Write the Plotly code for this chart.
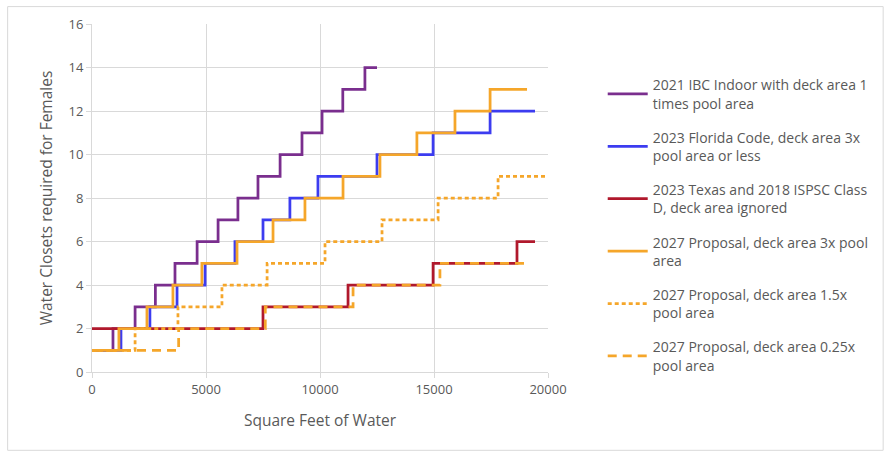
import plotly.graph_objects as go

# Step breakpoints (square feet of water) and required female water closets
ibc_x = [0, 920, 1890, 2780, 3640, 4610, 5530, 6400, 7280, 8250, 9210, 10090, 11000, 11970, 12500]
ibc_y = [1, 2, 3, 4, 5, 6, 7, 8, 9, 10, 11, 12, 13, 14, 14]

fl_x = [0, 1270, 2540, 3730, 4960, 6270, 7500, 8680, 9910, 12500, 14960, 17460, 19430]
fl_y = [1, 2, 3, 4, 5, 6, 7, 8, 9, 10, 11, 12, 12]

tx_x = [0, 7500, 11230, 14960, 18640, 19430]
tx_y = [2, 3, 4, 5, 6, 6]

p3_x = [0, 1180, 2410, 3550, 4820, 6360, 7940, 9340, 11010, 12630, 14250, 15920, 17460, 19080]
p3_y = [1, 2, 3, 4, 5, 6, 7, 8, 9, 10, 11, 12, 13, 13]

p15_x = [0, 1890, 3770, 5700, 7680, 10220, 12720, 15180, 17810, 19870]
p15_y = [1, 2, 3, 4, 5, 6, 7, 8, 9, 9]

p025_x = [0, 3800, 7600, 11450, 15260, 19080]
p025_y = [1, 2, 3, 4, 5, 5]

names = [
    "2021 IBC Indoor with deck area 1<br>times pool area",
    "2023 Florida Code, deck area 3x<br>pool area or less",
    "2023 Texas and 2018 ISPSC Class<br>D, deck area ignored",
    "2027 Proposal, deck area 3x pool<br>area",
    "2027 Proposal, deck area 1.5x<br>pool area",
    "2027 Proposal, deck area 0.25x<br>pool area",
]

x_ticks = [0, 5000, 10000, 15000, 20000]
y_ticks = [0, 2, 4, 6, 8, 10, 12, 14, 16]

series = [
    (ibc_x, ibc_y, "#7A2E8E", "solid"),
    (fl_x, fl_y, "#3C3CF0", "solid"),
    (tx_x, tx_y, "#B0182C", "solid"),
    (p3_x, p3_y, "#F5A62A", "solid"),
    (p15_x, p15_y, "#F5A62A", "4px,3px"),
    (p025_x, p025_y, "#F5A62A", "9px,6px"),
]

fig = go.Figure()
for i, ((xs, ys, color, dash), name) in enumerate(zip(series, names)):
    fig.add_trace(go.Scatter(
        x=xs, y=ys, mode="lines", name=name,
        line=dict(color=color, width=2.75, dash=dash, shape="hv"),
        legendgroup=f"g{i}",
    ))

font_family = "'Open Sans', 'Liberation Sans', sans-serif"
grid = "#D9D9D9"
text_color = "#595959"

fig.update_layout(
    width=893, height=457,
    margin=dict(l=92, r=345, t=24, b=85),
    paper_bgcolor="white", plot_bgcolor="white",
    font=dict(family=font_family, size=13, color=text_color),
    showlegend=True,
    legend=dict(
        x=1.12, y=0.87, xanchor="left", yanchor="top",
        font=dict(size=14, color=text_color),
        tracegroupgap=13, itemwidth=40,
        bgcolor="rgba(0,0,0,0)",
    ),
    shapes=[dict(
        type="rect", xref="paper", yref="paper",
        x0=-0.185, x1=1.735, y0=-0.225, y1=1.05,
        line=dict(color="#D9D9D9", width=1), layer="below",
    )],
)

fig.update_xaxes(
    range=[0, 20000], tickvals=x_ticks, ticktext=[str(v) for v in x_ticks],
    showgrid=True, gridcolor=grid, gridwidth=1,
    showline=True, linecolor=grid, linewidth=1,
    ticks="outside", ticklen=5, tickcolor=grid,
    zeroline=False,
    tickfont=dict(size=13, color=text_color),
    title=dict(text="Square Feet of Water", font=dict(size=15.5, color=text_color), standoff=18),
)
fig.update_yaxes(
    range=[0, 16], tickvals=y_ticks, ticktext=[str(v) for v in y_ticks],
    showgrid=True, gridcolor=grid, gridwidth=1,
    showline=True, linecolor=grid, linewidth=1,
    ticks="outside", ticklen=5, tickcolor=grid,
    zeroline=False,
    tickfont=dict(size=13, color=text_color),
    title=dict(text="Water Closets required for Females", font=dict(size=15.5, color=text_color), standoff=12),
)

fig.write_html("out.html")
